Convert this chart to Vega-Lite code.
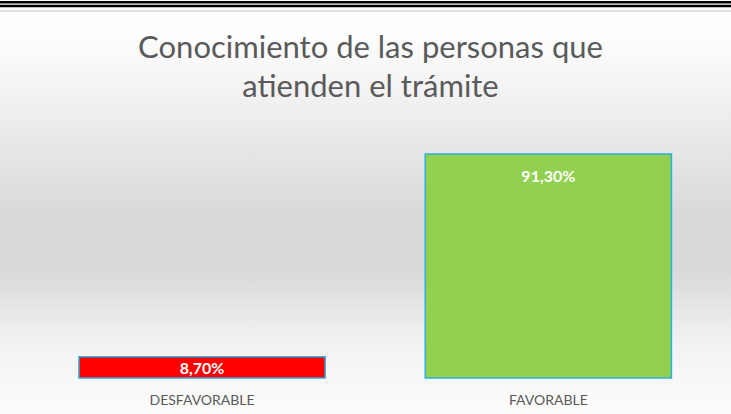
{
  "$schema": "https://vega.github.io/schema/vega-lite/v6.json",
  "width": 731,
  "height": 414,
  "padding": 0,
  "autosize": {"type": "none"},
  "background": "#ffffff",
  "config": {
    "view": {
      "stroke": null,
      "fill": {
        "gradient": "linear", "x1": 0, "y1": 0, "x2": 0, "y2": 1,
        "stops": [
          {"offset": 0, "color": "#ffffff"},
          {"offset": 0.08, "color": "#fefefe"},
          {"offset": 0.24, "color": "#f1f1f1"},
          {"offset": 0.41, "color": "#e2e2e2"},
          {"offset": 0.52, "color": "#d9d9d9"},
          {"offset": 0.66, "color": "#dadada"},
          {"offset": 0.8, "color": "#eeeeee"},
          {"offset": 0.88, "color": "#f6f6f6"},
          {"offset": 1, "color": "#fcfcfc"}
        ]
      }
    },
    "font": "Lato"
  },
  "title": {
    "text": ["Conocimiento de las personas que", "atienden el trámite"],
    "font": "Lato",
    "fontSize": 31,
    "fontWeight": "normal",
    "color": "#5a5a5a",
    "anchor": "middle",
    "baseline": "alphabetic",
    "lineHeight": 39,
    "offset": 0,
    "dy": 128,
    "dx": 5
  },
  "data": {
    "values": [
      {"categoria": "DESFAVORABLE", "valor": 8.7, "etiqueta": "8,70%"},
      {"categoria": "FAVORABLE", "valor": 91.3, "etiqueta": "91,30%"}
    ]
  },
  "encoding": {
    "x": {
      "field": "categoria", "type": "nominal", "sort": null,
      "scale": {"paddingInner": 0.289, "paddingOuter": 0.2, "align": 0.57},
      "axis": {
        "title": null, "domain": false, "ticks": false, "grid": false,
        "labelAngle": 0, "labelFont": "Lato", "labelFontSize": 14,
        "labelColor": "#595959", "labelBaseline": "alphabetic",
        "labelPadding": 0, "offset": -10
      }
    },
    "y": {
      "field": "valor", "type": "quantitative",
      "scale": {"domain": [-14.67, 154.06], "nice": false, "zero": false},
      "axis": null
    }
  },
  "layer": [
    {
      "data": {"values": [{"linea": 153.12}, {"linea": 151.61}]},
      "mark": {"type": "rule", "color": "#000000", "strokeWidth": 2.6},
      "encoding": {"y": {"field": "linea", "type": "quantitative"}, "x": null}
    },
    {
      "data": {"values": [{"borde": 149.58}]},
      "mark": {"type": "rule", "color": "#d9d9d9", "strokeWidth": 1.5},
      "encoding": {"y": {"field": "borde", "type": "quantitative"}, "x": null}
    },
    {
      "mark": {"type": "bar", "stroke": "#2ab0e0", "strokeWidth": 1.5},
      "encoding": {
        "y2": {"datum": 0},
        "fill": {
          "field": "categoria", "type": "nominal",
          "scale": {"domain": ["DESFAVORABLE", "FAVORABLE"], "range": ["#ff0000", "#92d050"]},
          "legend": null
        }
      }
    },
    {
      "transform": [{"filter": "datum.categoria == 'FAVORABLE'"}],
      "mark": {"type": "text", "color": "#ffffff", "font": "Lato", "fontSize": 16, "fontWeight": "bold", "baseline": "alphabetic", "dy": 28},
      "encoding": {"text": {"field": "etiqueta"}}
    },
    {
      "transform": [{"filter": "datum.categoria == 'DESFAVORABLE'"}],
      "mark": {"type": "text", "color": "#ffffff", "font": "Lato", "fontSize": 16, "fontWeight": "bold", "baseline": "alphabetic", "dy": 17},
      "encoding": {"text": {"field": "etiqueta"}}
    }
  ]
}
